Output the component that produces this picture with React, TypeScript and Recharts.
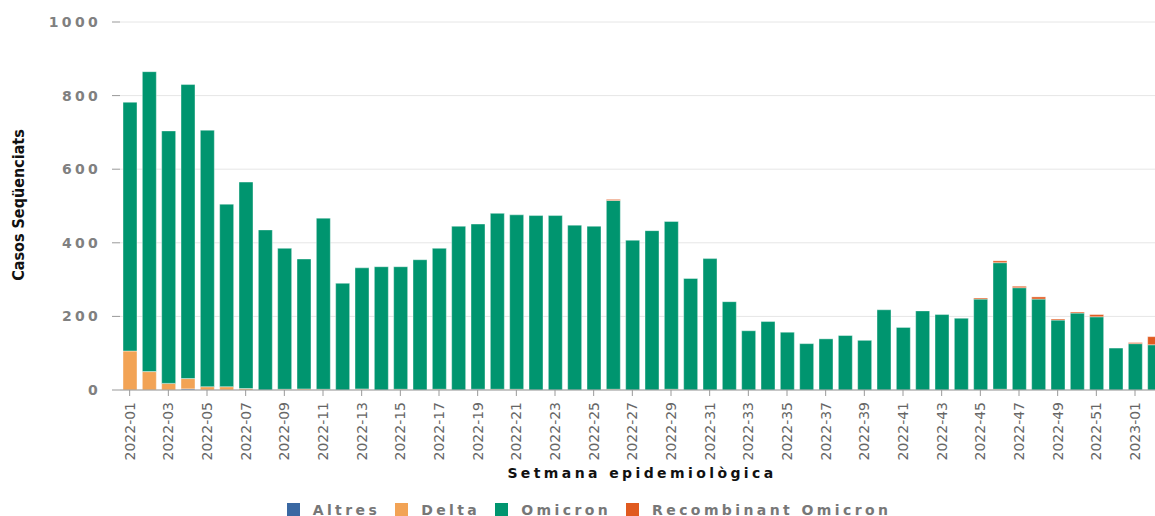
import { BarChart, Bar, XAxis, YAxis, CartesianGrid, Legend } from "recharts"

const weeks = [
  "2022-01", "2022-02", "2022-03", "2022-04", "2022-05", "2022-06", "2022-07", "2022-08", "2022-09",
  "2022-10", "2022-11", "2022-12", "2022-13", "2022-14", "2022-15", "2022-16", "2022-17", "2022-18",
  "2022-19", "2022-20", "2022-21", "2022-22", "2022-23", "2022-24", "2022-25", "2022-26", "2022-27",
  "2022-28", "2022-29", "2022-30", "2022-31", "2022-32", "2022-33", "2022-34", "2022-35", "2022-36",
  "2022-37", "2022-38", "2022-39", "2022-40", "2022-41", "2022-42", "2022-43", "2022-44", "2022-45",
  "2022-46", "2022-47", "2022-48", "2022-49", "2022-50", "2022-51", "2022-52", "2023-01", "2023-02",
]

const altres = [
  0, 0, 0, 3, 0, 0, 0, 0, 0,
  0, 0, 0, 1, 0, 0, 0, 0, 0,
  2, 0, 0, 0, 0, 0, 0, 0, 0,
  0, 0, 0, 0, 0, 0, 0, 0, 0,
  0, 0, 0, 0, 0, 0, 0, 0, 0,
  0, 0, 0, 0, 0, 0, 0, 0, 0,
]

const delta = [
  106, 50, 18, 28, 9, 9, 4, 0, 2,
  3, 2, 0, 2, 0, 2, 0, 2, 0,
  0, 2, 2, 0, 0, 0, 0, 2, 0,
  0, 2, 0, 0, 0, 0, 0, 0, 0,
  0, 0, 0, 0, 0, 0, 0, 0, 0,
  2, 0, 0, 0, 0, 0, 0, 0, 0,
]

const omicron = [
  676, 815, 686, 799, 697, 496, 561, 435, 383,
  353, 465, 290, 329, 335, 333, 354, 383, 445,
  449, 478, 474, 474, 474, 448, 445, 513, 407,
  433, 456, 303, 357, 240, 161, 186, 157, 126,
  139, 148, 135, 218, 170, 215, 205, 195, 247,
  344, 278, 247, 190, 209, 199, 114, 126, 123,
]

const recombinant = [
  0, 0, 0, 0, 0, 0, 0, 0, 0,
  0, 0, 0, 0, 0, 0, 0, 0, 0,
  0, 0, 0, 0, 0, 0, 0, 3, 0,
  0, 0, 0, 0, 0, 0, 0, 0, 0,
  0, 0, 0, 0, 0, 0, 0, 0, 3,
  5, 4, 6, 3, 3, 6, 0, 3, 22,
]

const yTicks = [0, 200, 400, 600, 800, 1000]

const series = [
  { key: "Altres", color: "#3a68a2" },
  { key: "Delta", color: "#f2a355" },
  { key: "Omicron", color: "#00956f" },
  { key: "Recombinant Omicron", color: "#e05a1f" },
]

const data = weeks.map((w, i) => ({
  week: w,
  Altres: altres[i],
  Delta: delta[i],
  Omicron: omicron[i],
  "Recombinant Omicron": recombinant[i],
}))

const font = "'DejaVu Sans', sans-serif"

function XTick({ x, y, payload }: any) {
  return (
    <g transform={`translate(${x},${y + 4})`}>
      <text transform="rotate(-90)" textAnchor="end" dy="0.35em" fill="#666" fontSize={14} fontFamily={font}>
        {payload.value}
      </text>
    </g>
  )
}

function YTick({ x, y, payload }: any) {
  return (
    <text x={x + 3} y={y} dy="0.36em" textAnchor="end" fill="#808080" fontSize={14} fontWeight="bold"
      fontFamily={font} style={{ letterSpacing: 3.3 }}>
      {payload.value}
    </text>
  )
}

function LegendBox() {
  return (
    <div style={{ display: "flex", justifyContent: "center", alignItems: "center", height: 30, paddingTop: 17, paddingLeft: 29, boxSizing: "border-box" }}>
      {series.map((s) => (
        <div key={s.key} style={{ display: "flex", alignItems: "center", marginRight: 15 }}>
          <span style={{ width: 13, height: 13, background: s.color, display: "inline-block", marginRight: 13 }} />
          <span style={{ fontFamily: font, fontWeight: "bold", fontSize: 14, color: "#777", letterSpacing: 3.4, lineHeight: "16px" }}>
            {s.key}
          </span>
        </div>
      ))}
    </div>
  )
}

export default function App() {
  return (
    <div style={{ position: "fixed", left: 0, top: 0, width: 1155, height: 516, overflow: "hidden", background: "#fff" }}>
      <BarChart width={1176} height={516} data={data} margin={{ top: 22, right: 12, left: 0, bottom: 0 }} barSize={14}>
        <CartesianGrid vertical={false} stroke="#e6e6e6" />
        <XAxis
          dataKey="week"
          interval={1}
          height={96}
          tickSize={6}
          stroke="#999"
          tick={<XTick />}
          label={({ viewBox }: any) => (
            <text x={viewBox.x + viewBox.width / 2} y={viewBox.y + 88} textAnchor="middle" fill="#111"
              fontSize={14} fontWeight="bold" fontFamily={font} style={{ letterSpacing: 3.4 }}>
              Setmana epidemiològica
            </text>
          )}
        />
        <YAxis
          width={120}
          domain={[0, 1000]}
          ticks={yTicks}
          axisLine={false}
          tickSize={8}
          tickMargin={14}
          tickLine={{ stroke: "#999" }}
          tick={<YTick />}
          label={() => (
            <text x={18} y={205} transform="rotate(-90 18 205)" textAnchor="middle" dy="0.35em" fill="#111"
              fontSize={16} fontWeight="bold" fontFamily="'DejaVu Sans Condensed', 'DejaVu Sans', sans-serif">
              Casos Seqüenciats
            </text>
          )}
        />
        <Legend verticalAlign="bottom" content={<LegendBox />} />
        {series.map((s) => (
          <Bar key={s.key} dataKey={s.key} stackId="a" fill={s.color} stroke="#ffffff" strokeOpacity={0.5}
            strokeWidth={0.8} isAnimationActive={false} />
        ))}
      </BarChart>
    </div>
  )
}
